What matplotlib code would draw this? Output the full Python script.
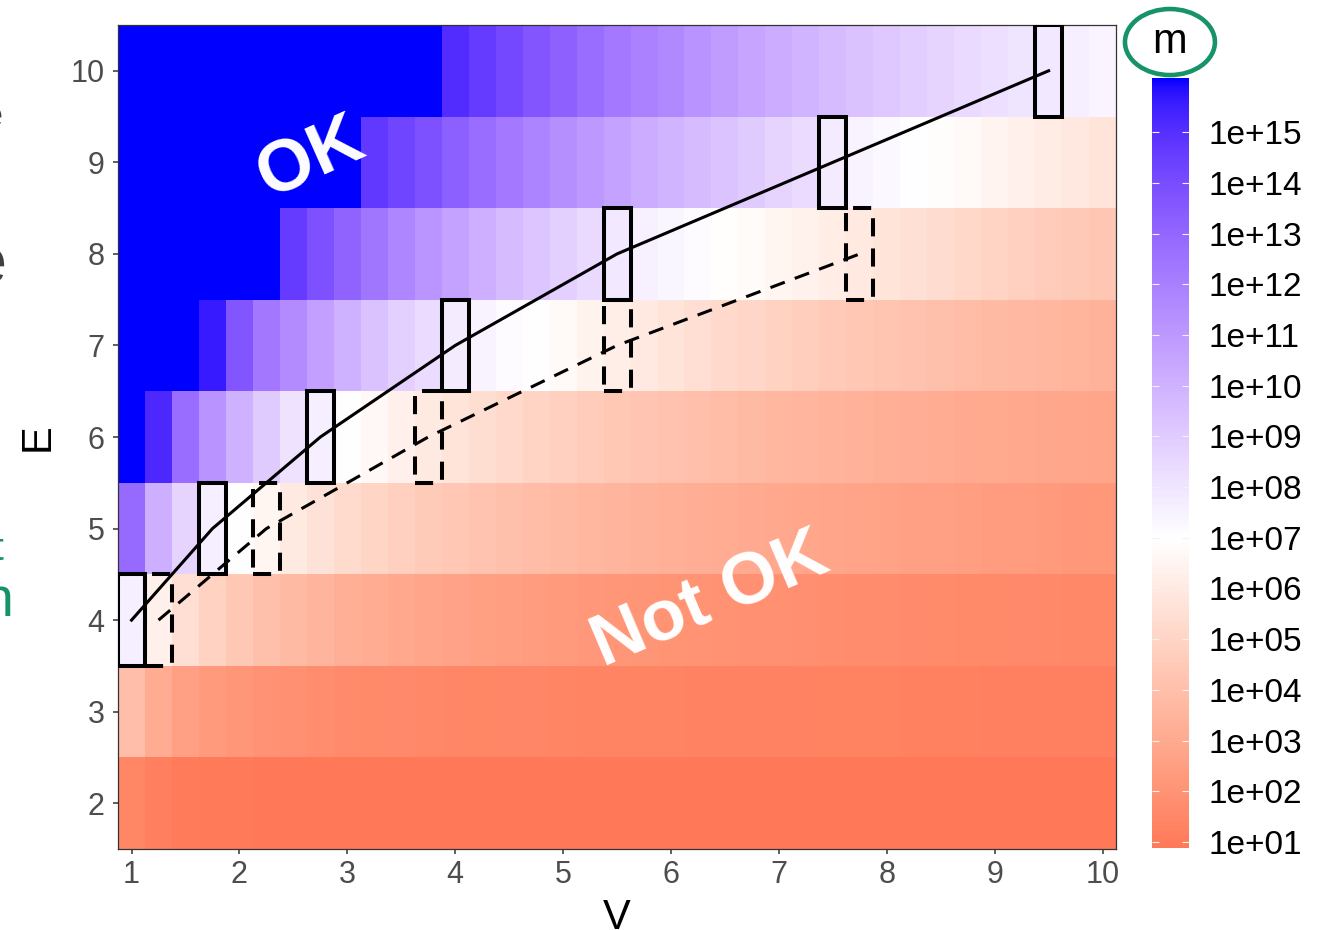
import numpy as np
import matplotlib
matplotlib.use("Agg")
import matplotlib.pyplot as plt
from matplotlib.colors import ListedColormap, Normalize
from matplotlib.patches import Rectangle, Ellipse

plt.rcParams["font.family"] = ["Liberation Sans", "DejaVu Sans"]

# grid of the heatmap
V = [1.0, 1.25, 1.5, 1.75, 2.0, 2.25, 2.5, 2.75, 3.0, 3.25, 3.5, 3.75, 4.0,
     4.25, 4.5, 4.75, 5.0, 5.25, 5.5, 5.75, 6.0, 6.25, 6.5, 6.75, 7.0, 7.25,
     7.5, 7.75, 8.0, 8.25, 8.5, 8.75, 9.0, 9.25, 9.5, 9.75, 10.0]
E = [2, 3, 4, 5, 6, 7, 8, 9, 10]

# log10(m) per row
m_e2 = [1.45, 1.12, 0.98, 0.93, 0.91, 0.90, 0.89, 0.88, 0.88, 0.88, 0.88, 0.88, 0.88,
        0.88, 0.88, 0.88, 0.88, 0.88, 0.88, 0.88, 0.88, 0.88, 0.88, 0.88, 0.88, 0.88,
        0.88, 0.88, 0.88, 0.88, 0.88, 0.88, 0.88, 0.88, 0.88, 0.88, 0.88]
m_e3 = [3.95, 3.1, 2.6, 2.3, 2.1, 1.95, 1.84, 1.75, 1.68, 1.62, 1.57, 1.53, 1.5,
        1.47, 1.44, 1.42, 1.4, 1.38, 1.36, 1.35, 1.33, 1.32, 1.3, 1.29, 1.28, 1.27,
        1.26, 1.25, 1.24, 1.23, 1.22, 1.21, 1.2, 1.2, 1.19, 1.18, 1.18]
m_e4 = [7.6, 6.28, 5.48, 4.87, 4.4, 4.05, 3.75, 3.5, 3.28, 3.1, 2.94, 2.8, 2.67,
        2.56, 2.46, 2.37, 2.29, 2.22, 2.15, 2.09, 2.03, 1.98, 1.93, 1.89, 1.85, 1.81,
        1.77, 1.74, 1.71, 1.68, 1.65, 1.62, 1.6, 1.57, 1.55, 1.53, 1.51]
m_e5 = [12.87, 10.08, 8.67, 7.64, 6.98, 6.52, 6.0, 5.62, 5.29, 5.01, 4.78, 4.55, 4.36,
        4.18, 4.04, 3.9, 3.76, 3.62, 3.5, 3.39, 3.3, 3.21, 3.12, 3.03, 2.94, 2.86,
        2.79, 2.72, 2.65, 2.58, 2.52, 2.46, 2.4, 2.34, 2.28, 2.22, 2.16]
m_e6 = [16.07, 15.23, 12.73, 11.23, 10.0, 8.99, 8.1, 7.64, 6.98, 6.67, 6.28, 6.0, 5.71,
        5.43, 5.2, 4.96, 4.78, 4.59, 4.41, 4.27, 4.13, 3.99, 3.85, 3.76, 3.62, 3.53,
        3.44, 3.35, 3.26, 3.17, 3.12, 3.03, 2.98, 2.94, 2.89, 2.85, 2.8]
m_e7 = [16.07, 16.07, 16.07, 15.6, 13.64, 12.29, 11.54, 10.69, 10.0, 9.39, 8.83, 8.35, 7.79,
        7.49, 7.15, 6.98, 6.71, 6.42, 6.19, 5.95, 5.71, 5.48, 5.24, 5.05, 4.87, 4.68,
        4.5, 4.38, 4.25, 4.12, 4.0, 3.88, 3.77, 3.67, 3.58, 3.49, 3.4]
m_e8 = [16.07, 16.07, 16.07, 16.07, 16.07, 16.07, 14.64, 13.83, 13.13, 12.37, 11.74, 11.15, 10.62,
        10.08, 9.62, 9.23, 8.83, 8.43, 7.87, 7.56, 7.34, 7.15, 6.95, 6.81, 6.57, 6.33,
        6.14, 5.95, 5.71, 5.52, 5.34, 5.15, 4.96, 4.78, 4.59, 4.45, 4.31]
m_e9 = [16.07, 16.07, 16.07, 16.07, 16.07, 16.07, 16.07, 16.07, 16.07, 14.73, 14.28, 13.83, 13.28,
        12.73, 12.25, 11.82, 11.38, 11.0, 10.62, 10.23, 9.92, 9.62, 9.31, 8.99, 8.67, 8.35,
        7.79, 7.49, 7.26, 7.11, 6.9, 6.71, 6.47, 6.28, 6.09, 5.9, 5.71]
m_e10 = [16.07, 16.07, 16.07, 16.07, 16.07, 16.07, 16.07, 16.07, 16.07, 16.07, 16.07, 16.07, 15.12,
         14.64, 14.17, 13.64, 13.2, 12.73, 12.25, 11.94, 11.62, 11.23, 10.85, 10.54, 10.23, 9.92,
         9.62, 9.39, 9.15, 8.91, 8.67, 8.43, 8.22, 8.02, 7.87, 7.64, 7.41]
log_m = np.array([m_e2, m_e3, m_e4, m_e5, m_e6, m_e7, m_e8, m_e9, m_e10])

# boxes + lines
solid_v = [1.0, 1.75, 2.75, 4.0, 5.5, 7.5, 9.5]
solid_e = [4, 5, 6, 7, 8, 9, 10]
dashed_v = [1.25, 2.25, 3.75, 5.5, 7.75]
dashed_e = [4, 5, 6, 7, 8]

cb_ticks = list(range(1, 16))
cb_labels = ["1e+%02d" % k for k in cb_ticks]
m_min, m_mid, m_max = 0.88, 7.0, 16.07


# red - white - blue gradient interpolated in Lab, like ggplot's gradient2
WHITE_REF = np.array([0.95047, 1.0, 1.08883])
M = np.array([[0.4124, 0.3576, 0.1805], [0.2126, 0.7152, 0.0722], [0.0193, 0.1192, 0.9505]])
MINV = np.linalg.inv(M)


def to_lab(rgb):
    rgb = np.asarray(rgb, float)
    lin = np.where(rgb <= 0.04045, rgb / 12.92, ((rgb + 0.055) / 1.055) ** 2.4)
    xyz = (M @ lin) / WHITE_REF
    f = np.where(xyz > 0.008856, np.cbrt(xyz), 7.787 * xyz + 16 / 116)
    return np.array([116 * f[1] - 16, 500 * (f[0] - f[1]), 200 * (f[1] - f[2])])


def to_rgb(lab):
    L, a, b = lab
    fy = (L + 16) / 116
    f = np.array([fy + a / 500, fy, fy - b / 200])
    xyz = np.where(f ** 3 > 0.008856, f ** 3, (f - 16 / 116) / 7.787) * WHITE_REF
    lin = np.clip(MINV @ xyz, 0, 1)
    return np.where(lin <= 0.0031308, 12.92 * lin, 1.055 * lin ** (1 / 2.4) - 0.055)


lab_lo, lab_mid, lab_hi = to_lab([1, 0, 0]), to_lab([1, 1, 1]), to_lab([0, 0, 1])
half = max(m_max - m_mid, m_mid - m_min)
cols = []
for x in np.linspace(m_min, m_max, 512):
    t = (x - m_mid) / half
    if t < 0:
        lab = lab_mid + (lab_lo - lab_mid) * (-t)
    else:
        lab = lab_mid + (lab_hi - lab_mid) * t
    cols.append(np.clip(to_rgb(lab), 0, 1))
cmap = ListedColormap(cols)
norm = Normalize(vmin=m_min, vmax=m_max)

fig = plt.figure(figsize=(13.31, 9.30), dpi=100)
ax = fig.add_axes([0.0887, 0.0871, 0.7498, 0.886])
cax = fig.add_axes([0.8655, 0.0882, 0.0278, 0.8279])

mesh = ax.pcolormesh(V, E, log_m, shading="nearest", cmap=cmap, norm=norm,
                     antialiased=False, linewidth=0)

for v, e in zip(solid_v, solid_e):
    ax.add_patch(Rectangle((v - 0.125, e - 0.5), 0.25, 1, fill=False,
                           edgecolor="black", linewidth=2.9, zorder=3))
for v, e in zip(dashed_v, dashed_e):
    ax.add_patch(Rectangle((v - 0.125, e - 0.5), 0.25, 1, fill=False,
                           edgecolor="black", linewidth=2.9, linestyle=(0, (4.5, 3)), zorder=3))

ax.plot(solid_v, solid_e, color="black", linewidth=2.2, zorder=4)
ax.plot(dashed_v, dashed_e, color="black", linewidth=2.2, dashes=(5, 3.5), zorder=4)

ax.text(2.66, 9.05, "OK", color="white", fontsize=52, fontweight="bold",
        rotation=24, ha="center", va="center", zorder=5)
ax.text(6.36, 4.22, "Not OK", color="white", fontsize=52, fontweight="bold",
        rotation=23, ha="center", va="center", zorder=5)

ax.set_xlim(0.875, 10.125)
ax.set_ylim(1.5, 10.5)
ax.set_xticks(range(1, 11))
ax.set_yticks(range(2, 11))
ax.tick_params(axis="both", length=3.6, width=1.1, color="#333333",
               labelsize=22, labelcolor="#4D4D4D", pad=4)
ax.tick_params(axis="y", pad=6)
for sp in ax.spines.values():
    sp.set_color("#333333")
    sp.set_linewidth(0.9)

ax.set_xlabel("V", fontsize=30)
ax.set_ylabel("E", fontsize=30)
ax.xaxis.set_label_coords(0.5, -0.06)
ax.yaxis.set_label_coords(-0.061, 0.5)

cb = fig.colorbar(mesh, cax=cax, ticks=cb_ticks)
cb.set_ticklabels(cb_labels)
cb.outline.set_visible(False)
cax.tick_params(axis="y", which="both", direction="in", colors="#F2F2F2", length=5, width=0.8,
                left=True, right=True, labelleft=False, labelright=True,
                labelsize=24, pad=14)
for lab in cax.get_yticklabels():
    lab.set_color("black")

fig.text(0.879, 0.943, "m", fontsize=30, ha="center", va="baseline")
fig.patches.append(Ellipse((0.879, 0.9548), 0.0676, 0.071, transform=fig.transFigure,
                           fill=False, edgecolor="#17936A", linewidth=3.3))

# bits of slide text cut off at the left edge
fig.text(2 / 1331, 1 - 127 / 930, "e", fontsize=26, color="#404040", ha="right", va="baseline")
fig.text(6 / 1331, 1 - 283 / 930, "e", fontsize=48, color="#404040", ha="right", va="baseline")
fig.text(3 / 1331, 1 - 560 / 930, "t", fontsize=28, color="#17936A", ha="right", va="baseline")
fig.text(13 / 1331, 1 - 616 / 930, "n", fontsize=40, color="#17936A", ha="right", va="baseline")

fig.savefig("out.png", dpi=100)
